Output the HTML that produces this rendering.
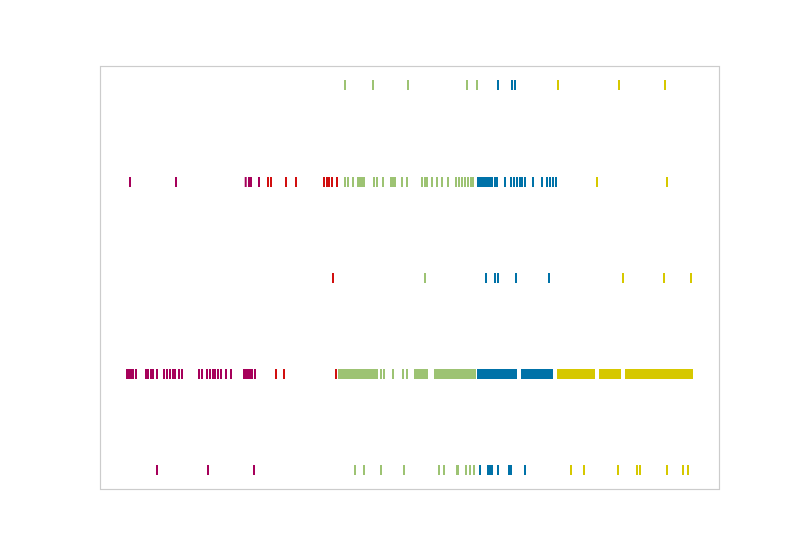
<!DOCTYPE html>
<html><head><meta charset="utf-8"><style>body{margin:0;background:#fff}svg{display:block}</style></head>
<body>
<svg id="chart" width="800" height="550" xmlns="http://www.w3.org/2000/svg">
<rect x="100.5" y="66.5" width="619" height="423" fill="#fff" stroke="#cccccc" stroke-width="1.2"/>
<g id="marks"></g>
</svg>
<script>
const row1 = [245,273,308,367,377,398,412,415,458,519,565];
const row2 = [30,76,145.7,149,151,159,168,171,186,196,224,227,229,232,237,245,248,253,258,260,262,264,274,277,283,291,293,295,302,307,322,325,327,332,337,342,348,356,359,362,365,368,371,373,378,380,382,384,386,388,390,392,395,397,405,411,414,417,420,422,425,433,442,447,450,453,456,497,567];
const row3 = [233,325,386,395,398,416,449,523,564,591];
const row4 = [27,29,31,33,36,46,48,51,53,57,64,67,70,73,75,79,82,99,102,107,110,113,115,118,121,126,131,144,146,148,150,152,155,176,184,236,
239,241,243,245,247,249,251,253,255,257,259,261,263,265,267,269,271,273,275,277,281,284,293,303,307,
315,317,319,321,323,325,327,
335,337,339,341,343,345,347,349,351,353,355,357,359,361,363,365,367,369,371,373,375,
378,380,382,384,386,388,390,392,394,396,398,400,402,404,406,408,410,412,414,416,
422,424,426,428,430,432,434,436,438,440,442,444,446,448,450,452,
458,460,462,464,466,468,470,472,474,476,478,480,482,484,486,488,490,492,494,
500,502,504,506,508,510,512,514,516,518,520,
526,528,530,532,534,536,538,540,542,544,546,548,550,552,554,556,558,560,562,564,566,568,570,572,574,576,578,580,582,584,586,588,590,592];
const row5 = [57,108,154,255,264,281,304,339,344,357,358,366,370,374,380,388,390,392,398,409,411,425,471,484,518,537,540,567,583,588];
const rows = [row1,row2,row3,row4,row5];
const rowCenters = [85,182,278,374,470];
const thresholds = [163, 239, 377.5, 457];
const colors = ["#A6005A","#D10F0F","#9DC373","#0072A8","#D6C800"];
function xScale(v){ return 100 + v; }
function colorFor(v){ let i=0; while(i<thresholds.length && v>=thresholds[i]) i++; return colors[i]; }
const g = document.getElementById('marks');
rows.forEach((r,ri)=>{
  r.forEach(v=>{
    const l = document.createElementNS('http://www.w3.org/2000/svg','line');
    
    
    const x = xScale(v);
    l.setAttribute('x1',x); l.setAttribute('x2',x);
    l.setAttribute('y1',rowCenters[ri]-5); l.setAttribute('y2',rowCenters[ri]+5);
    l.setAttribute('stroke',colorFor(v)); l.setAttribute('stroke-width','2');
    g.appendChild(l);
  });
});
</script>
</body></html>
